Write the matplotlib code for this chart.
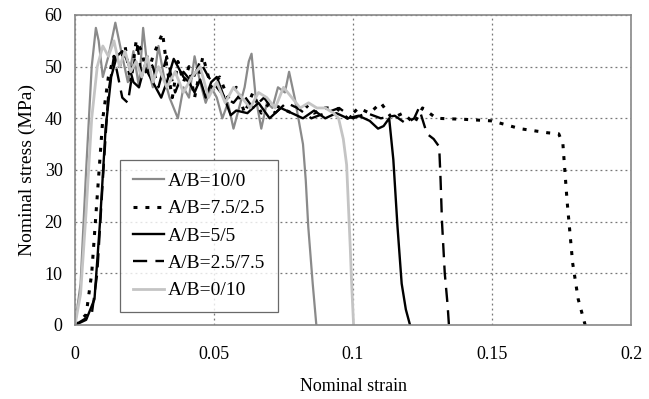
import numpy as np
import matplotlib as mpl
mpl.use("Agg")
import matplotlib.pyplot as plt

plt.rcParams['font.family'] = ['Liberation Serif', 'DejaVu Serif']

labels = ["A/B=10/0", "A/B=7.5/2.5", "A/B=5/5", "A/B=2.5/7.5", "A/B=0/10"]

# A/B=10/0
x_100 = [0, 0.002, 0.004, 0.006, 0.0075, 0.0085, 0.010, 0.012, 0.0145, 0.017, 0.019, 0.021,
         0.023, 0.0245, 0.026, 0.028, 0.030, 0.032, 0.034, 0.037, 0.039, 0.041, 0.043, 0.045,
         0.047, 0.049, 0.051, 0.053, 0.055, 0.057, 0.059, 0.061, 0.0625, 0.0635, 0.065, 0.067,
         0.069, 0.071, 0.073, 0.0755, 0.077, 0.079, 0.081, 0.082, 0.083, 0.0839, 0.0855, 0.0868]
y_100 = [0, 8, 30, 50, 57.5, 55, 48, 52, 58.5, 52, 47, 53, 46, 57.5, 50, 46, 54, 48, 44,
         40, 46, 44, 52, 47, 43, 46, 44, 40, 43, 38, 42, 46, 51, 52.5, 44, 38, 43, 42, 46,
         45, 49, 44, 38, 35, 28, 19, 8, 0]

# A/B=7.5/2.5
x_7525 = [0, 0.004, 0.006, 0.008, 0.010, 0.012, 0.014, 0.016, 0.018, 0.020, 0.022, 0.024,
          0.026, 0.028, 0.0315, 0.033, 0.035, 0.037, 0.039, 0.041, 0.043, 0.046, 0.049, 0.052,
          0.055, 0.058, 0.061, 0.064, 0.067, 0.070, 0.074, 0.078, 0.082, 0.086, 0.090, 0.094,
          0.098, 0.102, 0.106, 0.110, 0.114, 0.118, 0.122, 0.125, 0.13, 0.14, 0.15, 0.16,
          0.17, 0.174, 0.1755, 0.177, 0.179, 0.181, 0.1835]
y_7525 = [0, 2, 10, 25, 40, 48, 52, 50, 54, 47, 55, 53, 48, 52, 56.5, 50, 44, 51, 47, 50,
          44, 52, 46, 48, 44, 46, 41, 45, 41, 43, 42, 41, 43, 41, 42, 42, 40, 42, 41, 43,
          40, 41, 39, 42, 40, 39.8, 39.5, 38, 37.2, 37, 35, 24, 12, 5, 0]

# A/B=5/5
x_55 = [0, 0.004, 0.007, 0.009, 0.011, 0.013, 0.015, 0.017, 0.019, 0.021, 0.023, 0.025,
        0.027, 0.029, 0.031, 0.033, 0.0355, 0.037, 0.039, 0.041, 0.043, 0.045, 0.047, 0.049,
        0.051, 0.053, 0.056, 0.058, 0.062, 0.066, 0.070, 0.074, 0.078, 0.082, 0.086, 0.090,
        0.094, 0.098, 0.102, 0.106, 0.109, 0.111, 0.113, 0.1145, 0.116, 0.1175, 0.119, 0.1205]
y_55 = [0, 1, 5, 20, 38, 48, 52, 53, 51, 47, 46, 50, 48, 46, 44, 47, 51.5, 50, 48, 47,
        45, 47.5, 44, 47, 48, 45, 40.6, 41.5, 41, 43, 40, 42, 41, 40, 41.5, 40, 41, 40,
        40.5, 39.5, 38, 38.5, 40, 32, 19, 8, 3, 0]

# A/B=2.5/7.5
x_2575 = [0, 0.006, 0.008, 0.010, 0.012, 0.014, 0.017, 0.019, 0.021, 0.0225, 0.024, 0.026,
          0.028, 0.030, 0.033, 0.036, 0.039, 0.042, 0.045, 0.048, 0.051, 0.054, 0.057, 0.060,
          0.064, 0.068, 0.072, 0.076, 0.080, 0.085, 0.090, 0.095, 0.100, 0.105, 0.110, 0.115,
          0.119, 0.122, 0.1237, 0.1266, 0.129, 0.131, 0.1315, 0.132, 0.133, 0.134, 0.1345]
y_2575 = [0, 2, 10, 28, 45, 52, 44, 43, 50, 54, 48, 52, 50, 46, 52, 45, 49, 47, 51, 48,
          46, 44, 43, 45, 42, 44, 41, 43, 42, 40, 41, 42, 40, 41, 40, 40.5, 39, 40, 42,
          37, 36, 34.5, 28, 20, 10, 4, 0]

# A/B=0/10
x_010 = [0, 0.002, 0.004, 0.006, 0.008, 0.010, 0.012, 0.014, 0.016, 0.018, 0.020, 0.022,
         0.024, 0.026, 0.028, 0.030, 0.033, 0.036, 0.039, 0.042, 0.045, 0.048, 0.051, 0.054,
         0.057, 0.060, 0.063, 0.066, 0.069, 0.072, 0.075, 0.078, 0.081, 0.084, 0.087, 0.090,
         0.093, 0.0948, 0.0965, 0.0977, 0.099, 0.0995, 0.1002]
y_010 = [0, 6, 22, 40, 50, 54, 52, 55, 50, 53, 49, 51, 48, 52, 47, 50, 46, 49, 45, 48,
         50, 44, 47, 43, 46, 44, 42, 45, 44, 42, 46, 44, 42, 43, 42, 42, 41, 40, 36, 31,
         15, 8, 0]

fig = plt.figure(figsize=(6.49, 3.99), dpi=100)
ax = fig.add_axes([0.1156, 0.1855, 0.8567, 0.777])

ax.plot(x_100, y_100, color='#8a8a8a', lw=1.6, label=labels[0])
ax.plot(x_7525, y_7525, color='black', lw=2.2, dashes=(1.3, 2.6), label=labels[1])
ax.plot(x_55, y_55, color='black', lw=1.7, label=labels[2])
ax.plot(x_2575, y_2575, color='black', lw=1.7, dashes=(6, 3.5), label=labels[3])
ax.plot(x_010, y_010, color='#c4c4c4', lw=2.0, label=labels[4])

ax.set_xlim(0, 0.2)
ax.set_ylim(0, 60)
ax.set_xticks([0, 0.05, 0.1, 0.15, 0.2])
ax.set_xticklabels(['0', '0.05', '0.1', '0.15', '0.2'])
ax.set_yticks(np.arange(0, 61, 10))
ax.grid(True, color='#777777', linestyle=(0, (1.5, 2.5)), lw=0.9)
ax.tick_params(length=0, labelsize=13)
ax.tick_params(axis='x', pad=15)
ax.tick_params(axis='y', pad=9)
for s in ax.spines.values():
    s.set_color('#888888')
    s.set_linewidth(1.2)

ax.set_xlabel('Nominal strain', fontsize=13, labelpad=11)
ax.set_ylabel('Nominal stress (MPa)', fontsize=14, labelpad=6)

leg = ax.legend(loc='lower left', bbox_to_anchor=(0.081, 0.042), borderaxespad=0,
                fontsize=14, frameon=True, fancybox=False, edgecolor='#444444',
                handlelength=1.6, labelspacing=0.5, borderpad=0.65, handletextpad=0.2)
leg.get_frame().set_linewidth(0.9)

fig.savefig('out.png', dpi=100)
